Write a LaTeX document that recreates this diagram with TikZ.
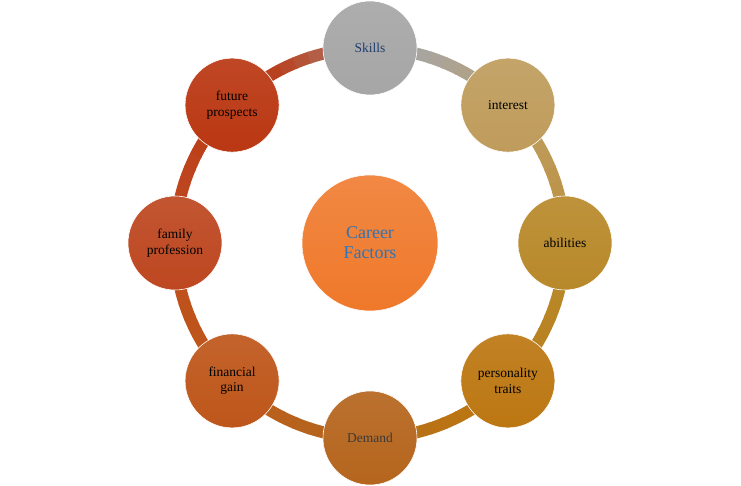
\documentclass[tikz,border=0pt]{standalone}
\usepackage{fontspec}
\setmainfont{Liberation Serif}

\definecolor{cSkills}{HTML}{A6A6A6}
\definecolor{cInterest}{HTML}{BF9C5C}
\definecolor{cAbilities}{HTML}{B8892A}
\definecolor{cPersonality}{HTML}{BC7712}
\definecolor{cDemand}{HTML}{B5651D}
\definecolor{cFinancial}{HTML}{BE561A}
\definecolor{cFamily}{HTML}{BD4720}
\definecolor{cFuture}{HTML}{BA3712}
\definecolor{cCenter}{HTML}{EF782A}
\definecolor{tBlue}{HTML}{2E75B6}
\definecolor{tNavy}{HTML}{1F3D70}
\definecolor{tGray}{HTML}{3A3A3A}

\begin{document}
\begin{tikzpicture}[x=1pt, y=1pt,
    factor/.style={circle, minimum size=94pt, inner sep=0pt, align=center,
      draw=white, line width=0.6pt, font=\fontsize{13.5}{15.5}\selectfont},
    ring/.style={line width=12pt}
  ]
  \useasboundingbox (-370, -243) rectangle (371, 243);

  % ring, coloured from one factor to the next
  \foreach \ca/\cb/\a in {cSkills/cInterest/90, cInterest/cAbilities/45,
      cAbilities/cPersonality/0, cPersonality/cDemand/-45,
      cDemand/cFinancial/-90, cFinancial/cFamily/-135,
      cFamily/cFuture/-180, cFuture/cSkills/-225} {
    \foreach \k in {0,...,9} {
      \pgfmathtruncatemacro{\p}{\k*\k}
      \pgfmathsetmacro{\s}{\a-\k*4.5+0.2}
      \pgfmathsetmacro{\e}{\a-(\k+1)*4.5-0.2}
      \draw[ring, color=\cb!\p!\ca] (\s:195) arc[start angle=\s, end angle=\e, radius=195];
    }
  }

  % outer factors
  \foreach \ang/\name/\col/\tcol/\txt in {
      90/skills/cSkills/tNavy/Skills,
      45/interest/cInterest/black/interest,
      0/abilities/cAbilities/black/abilities,
      -45/personality/cPersonality/black/{personality\\traits},
      -90/demand/cDemand/tGray/Demand,
      -135/financial/cFinancial/black/{financial\\gain},
      180/family/cFamily/black/{family\\profession},
      135/future/cFuture/black/{future\\prospects}} {
    \node[factor, top color=\col!92!white, bottom color=\col, text=\tcol]
      (\name) at (\ang:195) {\txt};
  }

  % centre
  \node[factor, minimum size=136pt, top color=cCenter!88!white, bottom color=cCenter,
    text=tBlue, font=\fontsize{18}{20}\selectfont] (career) at (0, 0) {Career\\Factors};
\end{tikzpicture}
\end{document}
